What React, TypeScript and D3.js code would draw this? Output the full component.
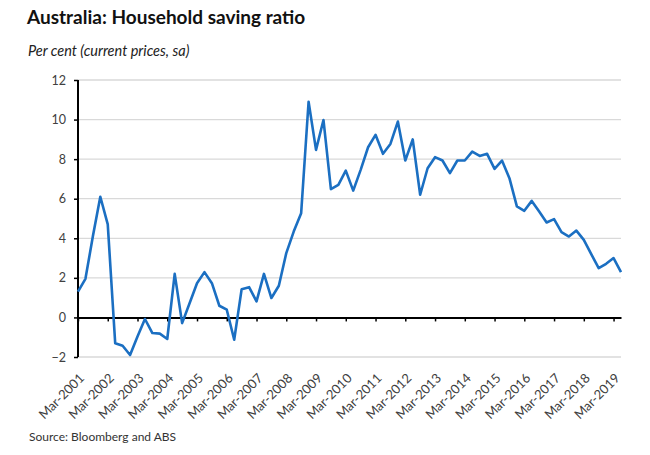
import { useRef, useEffect } from "react";
import * as d3 from "d3";

// quarterly, Mar-2001 .. Jun-2019
const startYear = 2001;
const savingRatio = [
  1.3, 1.95, 4.1, 6.1, 4.7, -1.3, -1.43, -1.9,
  -0.96, -0.08, -0.79, -0.82, -1.09, 2.2, -0.29, 0.72,
  1.73, 2.29, 1.73, 0.59, 0.39, -1.13, 1.43, 1.53,
  0.81, 2.2, 0.98, 1.6, 3.25, 4.34, 5.27, 10.9,
  8.47, 9.98, 6.48, 6.7, 7.42, 6.41, 7.46, 8.6,
  9.23, 8.27, 8.77, 9.9, 7.93, 9.0, 6.2, 7.54,
  8.1, 7.93, 7.29, 7.93, 7.93, 8.38, 8.16, 8.27,
  7.51, 7.93, 7.04, 5.61, 5.39, 5.89, 5.35, 4.8,
  4.97, 4.31, 4.09, 4.39, 3.92, 3.2, 2.49, 2.71,
  3.0, 2.29,
];
const yTicks = [-2, 0, 2, 4, 6, 8, 10, 12];
const labelEvery = 4;

const SavingChart = () => {
  const svgRef = useRef<SVGSVGElement>(null);

  useEffect(() => {
    document.body.style.margin = "0";
    const svg = d3.select(svgRef.current);
    svg.selectAll("*").remove();

    const font = "Lato, 'Open Sans', sans-serif";
    const left = 78;
    const right = 621;
    const top = 80;
    const bottom = 357;

    const x = d3
      .scalePoint<number>()
      .domain(savingRatio.map((_d, i) => i))
      .range([left, right]);

    const y = d3.scaleLinear().domain([-2, 12]).range([bottom, top]);

    // title + subtitle
    svg
      .append("text")
      .attr("x", 27)
      .attr("y", 24)
      .attr("font-family", font)
      .attr("font-size", 19)
      .attr("font-weight", "bold")
      .attr("fill", "#111")
      .text("Australia: Household saving ratio");
    svg
      .append("text")
      .attr("x", 28)
      .attr("y", 56)
      .attr("font-family", font)
      .attr("font-size", 14.5)
      .attr("font-style", "italic")
      .attr("fill", "#222")
      .text("Per cent (current prices, sa)");

    // gridlines
    svg
      .append("g")
      .selectAll("line")
      .data(yTicks.filter(t => t !== 0))
      .enter()
      .append("line")
      .attr("x1", left)
      .attr("x2", right)
      .attr("y1", d => y(d))
      .attr("y2", d => y(d))
      .attr("stroke", "#d9d9d9")
      .attr("stroke-width", 1.3);

    // y axis
    const yAxis = svg
      .append("g")
      .attr("transform", `translate(${left},0)`)
      .call(d3.axisLeft(y).tickValues(yTicks).tickSize(4).tickPadding(8));
    yAxis.select(".domain").attr("stroke", "#000").attr("stroke-width", 2).attr("d", `M0,${top}V${bottom}`);
    yAxis.selectAll(".tick line").attr("stroke", "#000").attr("stroke-width", 1.5);
    yAxis
      .selectAll(".tick text")
      .attr("font-family", font)
      .attr("font-size", 12.5)
      .attr("fill", "#404040");

    // zero line with category ticks
    const tickIdx = savingRatio.map((_d, i) => i).filter(i => i % labelEvery === 0);
    const xAxis = svg
      .append("g")
      .attr("transform", `translate(0,${y(0)})`)
      .call(
        d3
          .axisBottom(x)
          .tickValues(tickIdx)
          .tickSize(4)
          .tickSizeOuter(0)
          .tickFormat(() => "")
      );
    xAxis.select(".domain").attr("stroke", "#000").attr("stroke-width", 2);
    xAxis.selectAll(".tick line").attr("stroke", "#000").attr("stroke-width", 1.5);

    // category labels at the bottom
    svg
      .append("g")
      .selectAll("text")
      .data(tickIdx)
      .enter()
      .append("text")
      .attr("transform", d => `translate(${(x(d) as number) + 7},${bottom + 22}) rotate(-45)`)
      .attr("text-anchor", "end")
      .attr("font-family", font)
      .attr("font-size", 13)
      .attr("fill", "#404040")
      .text(d => `Mar-${startYear + d / 4}`);

    // series
    const line = d3
      .line<number>()
      .x((_d, i) => x(i) as number)
      .y(d => y(d));
    svg
      .append("path")
      .datum(savingRatio)
      .attr("d", line)
      .attr("fill", "none")
      .attr("stroke", "#1b6fc2")
      .attr("stroke-width", 2.6)
      .attr("stroke-linejoin", "round");

    // source
    svg
      .append("text")
      .attr("x", 29)
      .attr("y", 441)
      .attr("font-family", font)
      .attr("font-size", 12)
      .attr("fill", "#333")
      .text("Source: Bloomberg and ABS");
  }, []);

  return <svg ref={svgRef} width={650} height={455} style={{ display: "block", background: "#fff" }} />;
};

export default function App() {
  return <SavingChart />;
}
